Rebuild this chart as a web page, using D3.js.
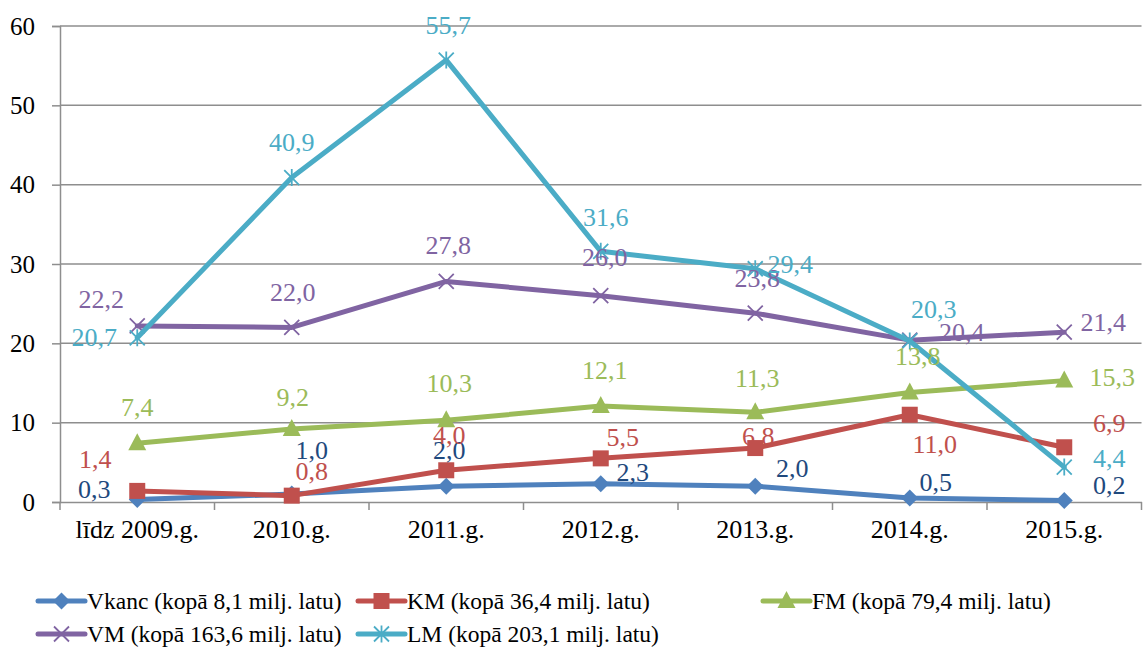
<!DOCTYPE html>
<html><head><meta charset="utf-8">
<script src="https://cdn.jsdelivr.net/npm/d3@7"></script>
<style>body{margin:0;background:#fff}svg{display:block}</style>
</head><body>
<svg id="chart" width="1143" height="650"></svg>
<script>
const categories = ["līdz 2009.g.","2010.g.","2011.g.","2012.g.","2013.g.","2014.g.","2015.g."];
const yTicks = [0,10,20,30,40,50,60];
const vkanc = [0.3,1.0,2.0,2.3,2.0,0.5,0.2];
const km    = [1.4,0.8,4.0,5.5,6.8,11.0,6.9];
const fm    = [7.4,9.2,10.3,12.1,11.3,13.8,15.3];
const vm    = [22.2,22.0,27.8,26.0,23.8,20.4,21.4];
const lm    = [20.7,40.9,55.7,31.6,29.4,20.3,4.4];
const seriesNames = ["Vkanc (kopā 8,1 milj. latu)","KM (kopā 36,4 milj. latu)","FM (kopā 79,4 milj. latu)","VM (kopā 163,6 milj. latu)","LM (kopā 203,1 milj. latu)"];

// layout / style (not data)
const colors = ["#4F81BD","#C0504D","#9BBB59","#8064A2","#4BACC6"];
const labelColors = ["#1F497D","#C0504D","#9BBB59","#8064A2","#4BACC6"];
const markers = ["diamond","square","triangle","x","star"];
const labelOffsets = [
  [[-43,-10],[20,-44],[3,-36],[32,-11],[37,-18],[26,-16],[45,-15]],
  [[-42,-31],[20,-24],[3,-35],[22,-21],[3,-12],[25,30],[45,-24]],
  [[0,-36],[1,-32],[3,-37],[4,-36],[2,-34],[8,-36],[48,-3]],
  [[-36,-26],[1,-35],[2,-36],[4,-38],[2,-35],[52,-8],[39,-10]],
  [[-43,0],[0,-35],[2,-35],[5,-34],[35,-4],[24,-31],[45,-9]]
];
const seriesData = [vkanc, km, fm, vm, lm];
const font = "'Liberation Serif','Times New Roman',serif";

const svg = d3.select("#chart");
const pLeft = 60, pRight = 1141.5, pTop = 26, pBottom = 502;
const x = d3.scaleBand().domain(categories).range([pLeft, pRight]);
const y = d3.scaleLinear().domain([0,60]).range([pBottom, pTop]);
const cx = c => x(c) + x.bandwidth()/2;

// gridlines
svg.append("g").selectAll("line").data(yTicks.filter(t=>t>0)).join("line")
  .attr("x1", pLeft).attr("x2", pRight).attr("y1", d=>y(d)).attr("y2", d=>y(d))
  .attr("stroke","#8E8E8E").attr("stroke-width",1.5);

// y axis
const ya = svg.append("g").attr("transform",`translate(${pLeft},0)`)
  .call(d3.axisLeft(y).tickValues(yTicks).tickSize(8).tickPadding(17).tickFormat(d3.format("d")));
ya.select(".domain").attr("stroke","#8E8E8E").attr("stroke-width",1.5);
ya.selectAll(".tick line").attr("stroke","#8E8E8E").attr("stroke-width",1.5);
ya.selectAll("text").attr("font-family",font).attr("font-size",25).attr("fill","#000");

// x axis
const xa = svg.append("g").attr("transform",`translate(0,${pBottom})`)
  .call(d3.axisBottom(x).tickSize(0).tickPadding(18));
xa.select(".domain").attr("stroke","#8E8E8E").attr("stroke-width",1.5);
xa.selectAll("text").attr("font-family",font).attr("font-size",26).attr("fill","#000");
svg.append("g").selectAll("line").data(d3.range(categories.length+1)).join("line")
  .attr("x1", i=>pLeft + i*x.step()).attr("x2", i=>pLeft + i*x.step())
  .attr("y1", pBottom).attr("y2", pBottom+8)
  .attr("stroke","#8E8E8E").attr("stroke-width",1.5);

function drawMarker(g, type, color, px, py, s) {
  s = s || 1;
  if (type === "diamond") {
    g.append("path").attr("d", `M${px},${py-8.5*s}L${px+8.5*s},${py}L${px},${py+8.5*s}L${px-8.5*s},${py}Z`).attr("fill",color);
  } else if (type === "square") {
    g.append("rect").attr("x",px-8*s).attr("y",py-8*s).attr("width",16*s).attr("height",16*s).attr("fill",color);
  } else if (type === "triangle") {
    g.append("path").attr("d", `M${px},${py-10*s}L${px+9*s},${py+7*s}L${px-9*s},${py+7*s}Z`).attr("fill",color);
  } else if (type === "x") {
    const r = 7.5*s;
    g.append("path").attr("d", `M${px-r},${py-r}L${px+r},${py+r}M${px-r},${py+r}L${px+r},${py-r}`)
      .attr("stroke",color).attr("stroke-width",1.8).attr("fill","none");
  } else if (type === "star") {
    const r = 7.5*s;
    g.append("path").attr("d", `M${px-r},${py-r}L${px+r},${py+r}M${px-r},${py+r}L${px+r},${py-r}M${px},${py-r-1}L${px},${py+r+1}`)
      .attr("stroke",color).attr("stroke-width",1.8).attr("fill","none");
  }
}

const line = d3.line().x((d,i)=>cx(categories[i])).y(d=>y(d));
seriesData.forEach((data, si) => {
  const g = svg.append("g");
  g.append("path").datum(data).attr("d", line).attr("fill","none")
    .attr("stroke", colors[si]).attr("stroke-width",5).attr("stroke-linejoin","round").attr("stroke-linecap","round");
  data.forEach((v,i) => drawMarker(g, markers[si], colors[si], cx(categories[i]), y(v)));
});

// data labels
const fmt = v => d3.format(".1f")(v).replace(".", ",");
seriesData.forEach((data, si) => {
  svg.append("g").selectAll("text").data(data).join("text")
    .attr("x", (d,i)=>cx(categories[i]) + labelOffsets[si][i][0])
    .attr("y", (d,i)=>y(d) + labelOffsets[si][i][1])
    .attr("text-anchor","middle").attr("dominant-baseline","central")
    .attr("font-family",font).attr("font-size",26).attr("fill",labelColors[si])
    .text(d=>fmt(d));
});

// legend
const legendPos = [[38,601],[358,601],[763,601],[38,634],[358,634]];
seriesNames.forEach((name, si) => {
  const [lx, ly] = legendPos[si];
  const g = svg.append("g");
  g.append("line").attr("x1",lx).attr("x2",lx+47).attr("y1",ly).attr("y2",ly)
    .attr("stroke",colors[si]).attr("stroke-width",5).attr("stroke-linecap","round");
  drawMarker(g, markers[si], colors[si], lx+23.5, ly);
  g.append("text").attr("x",lx+49).attr("y",ly).attr("dominant-baseline","central")
    .attr("font-family",font).attr("font-size",23.5).attr("fill","#000").text(name);
});
</script>
</body></html>
